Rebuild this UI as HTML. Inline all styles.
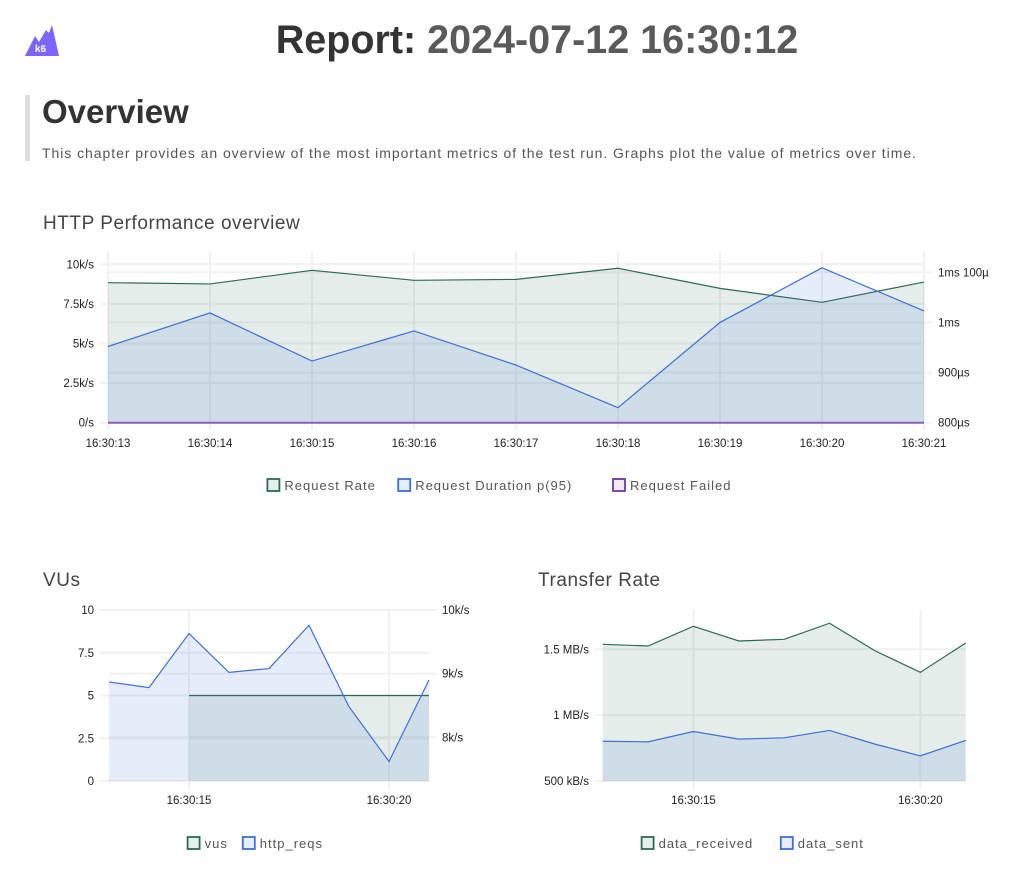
<!DOCTYPE html>
<html><head><meta charset="utf-8">
<style>
body{margin:0;width:1024px;height:878px;background:#fff;font-family:"Liberation Sans",sans-serif;position:relative;overflow:hidden}
.abs{position:absolute}
#title{left:0;width:1074px;top:18px;text-align:center;font-size:39.5px;font-weight:bold;color:#333;margin:0}
#title span{color:#5a5a5a}
#ov-bar{left:25px;top:95px;width:5px;height:66px;background:#ddd}
#ov{left:42px;top:93px;font-size:33px;font-weight:bold;color:#333;margin:0}
#desc{left:42px;top:145px;font-size:14px;color:#555;letter-spacing:0.95px;margin:0}
.ct{font-size:19px;color:#444;margin:0;letter-spacing:0.55px;font-weight:normal}
svg text{font-family:"Liberation Sans",sans-serif}
</style></head><body>
<svg class="abs" style="left:24px;top:24px" width="36" height="33" viewBox="0 0 36 33">
<path d="M1 32 L11 12 L15 18 L22 6 L25 9 L28 1 L35 32 Z" fill="#7d64ff"/>
<text x="11" y="28" font-size="10" font-weight="bold" fill="#fff">k6</text></svg>
<h1 id="title" class="abs">Report: <span>2024-07-12 16:30:12</span></h1>
<div id="ov-bar" class="abs"></div>
<h2 id="ov" class="abs">Overview</h2>
<p id="desc" class="abs">This chapter provides an overview of the most important metrics of the test run. Graphs plot the value of metrics over time.</p>
<h3 class="abs ct" style="left:43px;top:213px">HTTP Performance overview</h3>
<h3 class="abs ct" style="left:43px;top:570px">VUs</h3>
<h3 class="abs ct" style="left:538px;top:570px">Transfer Rate</h3>
<svg id="c" class="abs" style="left:0;top:0" width="1024" height="878"></svg>
<script>
const times=["16:30:13","16:30:14","16:30:15","16:30:16","16:30:17","16:30:18","16:30:19","16:30:20","16:30:21"];
const reqRate=[8.84,8.76,9.62,8.99,9.05,9.75,8.48,7.60,8.88];
const reqDur=[952,1019,923,983,915,830,1000,1109,1023];
const reqFailed=[0,0,0,0,0,0,0,0,0];
const vus=[null,null,5,5,5,5,5,5,5];
const httpReqs=[8.87,8.78,9.63,9.02,9.08,9.76,8.48,7.62,8.90];
const dataRecv=[1.538,1.525,1.675,1.563,1.576,1.698,1.489,1.325,1.548];
const dataSent=[0.802,0.797,0.876,0.818,0.828,0.884,0.780,0.691,0.808];
const topLeftTicks=[["10k/s",10],["7.5k/s",7.5],["5k/s",5],["2.5k/s",2.5],["0/s",0]];
const topRightTicks=[["1ms 100µ",1100],["1ms",1000],["900µs",900],["800µs",800]];
const vuLeftTicks=[["10",10],["7.5",7.5],["5",5],["2.5",2.5],["0",0]];
const vuRightTicks=[["10k/s",10],["9k/s",9],["8k/s",8]];
const trTicks=[["1.5 MB/s",1.5],["1 MB/s",1],["500 kB/s",0.5]];
const vuXTicks=[2,7], trXTicks=[2,7];

const NS="http://www.w3.org/2000/svg", svg=document.getElementById('c');
function el(t,a,p){const e=document.createElementNS(NS,t);for(const k in a)e.setAttribute(k,a[k]);(p||svg).appendChild(e);return e;}
function lin(d0,d1,r0,r1){return v=>r0+(v-d0)/(d1-d0)*(r1-r0);}
const GREEN="#2d6a55",GFILL="rgba(45,110,88,0.12)",BLUE="#3d6fd6",BFILL="rgba(60,115,215,0.13)",PURP="#8e5fc0",GRID="#f1f1f1";
function series(x,y,vals,stroke,fill,name,base){
  const pts=[];vals.forEach((v,i)=>{if(v!==null)pts.push([x(i),y(v)]);});
  const b=base;
  const area=el('path',{d:'M'+pts[0][0]+','+b+' L'+pts.map(p=>p.join(',')).join(' L')+' L'+pts[pts.length-1][0]+','+b+' Z',fill:fill});
  
  
  const ln=el('polyline',{points:pts.map(p=>p.join(',')).join(' '),fill:'none',stroke:stroke,'stroke-width':1.2});
  
  
}
function text(x,y,s,anchor,name){const t=el('text',{x:x,y:y,'font-size':11.5,fill:'#222','text-anchor':anchor});t.textContent=s;
  
  return t;}
function legend(cx,y,items){
  const cw=8.4;let w=0;items.forEach(it=>w+=18+it[0].length*cw+12);w-=12;let x=cx-w/2;
  items.forEach(it=>{const g=el('g',{});
    
    
    el('rect',{x:x,y:y-10,width:12,height:12,fill:it[2],stroke:it[1],'stroke-width':1.8},g);
    const t=el('text',{x:x+17,y:y+1,'font-size':13,fill:'#555','letter-spacing':'1.0'},g);t.textContent=it[0];
    x+=18+it[0].length*cw+12;});
}
// top chart
(function(){
  const x=lin(0,8,108,924), y=lin(0,10,422.7,264.3), y2=lin(800,1100,422.7,272.3);
  topLeftTicks.forEach(t=>{el('line',{x1:100,x2:924,y1:y(t[1]),y2:y(t[1]),stroke:GRID,'stroke-width':2});text(94,y(t[1])+4,t[0],'end','y-left-tick');});
  topRightTicks.forEach(t=>{el('line',{x1:108,x2:932,y1:y2(t[1]),y2:y2(t[1]),stroke:GRID,'stroke-width':2});text(938,y2(t[1])+4,t[0],'start','y-right-tick');});
  times.forEach((s,i)=>{el('line',{x1:x(i),x2:x(i),y1:252,y2:430,stroke:GRID,'stroke-width':2});text(x(i),447,s,'middle','x-tick');});
  series(x,y,reqRate,GREEN,GFILL,'request-rate',422.7);
  series(x,y2,reqDur,BLUE,BFILL,'request-duration',422.7);
  series(x,y,reqFailed,PURP,'none','request-failed',422.7);
  el('line',{x1:108,x2:924,y1:422.7,y2:422.7,stroke:PURP,'stroke-width':2});
  legend(508,489,[["Request Rate",GREEN,"#e5efec"],["Request Duration p(95)",BLUE,"#e6eefa"],["Request Failed",'#6a3aa0',"#f1e9f8"]]);
})();
// VUs chart
(function(){
  const x=lin(0,8,109,429), y=lin(0,10,781,610), y2=lin(8,10,737.3,610);
  vuLeftTicks.forEach(t=>{el('line',{x1:100,x2:429,y1:y(t[1]),y2:y(t[1]),stroke:GRID,'stroke-width':2});text(94,y(t[1])+4,t[0],'end','y-left-tick');});
  vuRightTicks.forEach(t=>{el('line',{x1:109,x2:436,y1:y2(t[1]),y2:y2(t[1]),stroke:GRID,'stroke-width':2});text(442,y2(t[1])+4,t[0],'start','y-right-tick');});
  vuXTicks.forEach(i=>{el('line',{x1:x(i),x2:x(i),y1:610,y2:789,stroke:GRID,'stroke-width':2});text(x(i),804,times[i],'middle','x-tick');});
  series(x,y,vus,GREEN,GFILL,'vus',781);
  series(x,y2,httpReqs,BLUE,BFILL,'http-reqs',781);
  legend(262,847,[["vus",GREEN,"#e5efec"],["http_reqs",BLUE,"#e6eefa"]]);
})();
// Transfer chart
(function(){
  const x=lin(0,8,602.7,965.7), y=lin(0.5,1.5,781,649.3);
  trTicks.forEach(t=>{el('line',{x1:595,x2:966,y1:y(t[1]),y2:y(t[1]),stroke:GRID,'stroke-width':2});text(589,y(t[1])+4,t[0],'end','y-tick');});
  trXTicks.forEach(i=>{el('line',{x1:x(i),x2:x(i),y1:610,y2:789,stroke:GRID,'stroke-width':2});text(x(i),804,times[i],'middle','x-tick');});
  series(x,y,dataRecv,GREEN,GFILL,'data-received',781);
  series(x,y,dataSent,BLUE,BFILL,'data-sent',781);
  legend(758,847,[["data_received",GREEN,"#e5efec"],["data_sent",BLUE,"#e6eefa"]]);
})();
</script>
</body></html>
